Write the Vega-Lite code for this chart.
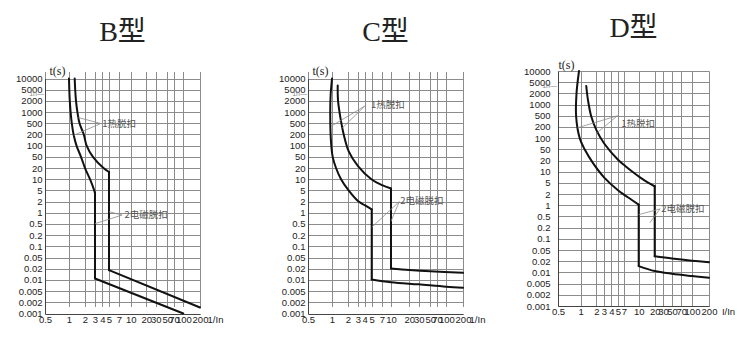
{
 "$schema": "https://vega.github.io/schema/vega-lite/v6.json",
 "padding": {"left": 15, "top": 15, "right": 0, "bottom": 0},
 "config": {
  "view": {"stroke": null},
  "axis": {"labelFont": "Liberation Sans", "labelFontSize": 9.5, "labelColor": "#222", "gridColor": "#8c8c8c", "gridWidth": 1, "gridOpacity": 1, "domainColor": "#444", "tickSize": 0, "labelOverlap": false, "labelFlush": false, "labelBound": false, "titleFontWeight": "normal", "titleColor": "#222"},
  "title": {"font": "Liberation Serif, Noto Sans CJK SC", "fontSize": 28, "fontWeight": "normal", "color": "#222", "anchor": "middle", "frame": "group"}
 },
 "spacing": 55,
 "hconcat": [
  {
   "width": 155, "height": 243,
   "title": {"text": "B型", "offset": 17},
   "layer": [
    {
     "data": {"values": [
      {"s":"La","i":0,"x":1.0,"y":10000},{"s":"La","i":1,"x":1.013,"y":5000},{"s":"La","i":2,"x":1.035,"y":2000},{"s":"La","i":3,"x":1.072,"y":1000},{"s":"La","i":4,"x":1.129,"y":500},{"s":"La","i":5,"x":1.22,"y":200},{"s":"La","i":6,"x":1.384,"y":100},{"s":"La","i":7,"x":1.681,"y":50},{"s":"La","i":8,"x":2.0,"y":20},{"s":"La","i":9,"x":2.449,"y":10},{"s":"La","i":10,"x":2.905,"y":5},{"s":"La","i":11,"x":3.0,"y":3.98},
      {"s":"Lb","i":0,"x":3.0,"y":3.98},{"s":"Lb","i":1,"x":3.0,"y":0.0109},
      {"s":"Lc","i":0,"x":3.0,"y":0.0109},{"s":"Lc","i":1,"x":100,"y":0.001},
      {"s":"Ua","i":0,"x":1.28,"y":10000},{"s":"Ua","i":1,"x":1.308,"y":5000},{"s":"Ua","i":2,"x":1.354,"y":2000},{"s":"Ua","i":3,"x":1.439,"y":1000},{"s":"Ua","i":4,"x":1.576,"y":500},{"s":"Ua","i":5,"x":1.897,"y":200},{"s":"Ua","i":6,"x":2.135,"y":100},{"s":"Ua","i":7,"x":2.76,"y":50},{"s":"Ua","i":8,"x":4.16,"y":20},{"s":"Ua","i":9,"x":5.0,"y":15.6},
      {"s":"Ub","i":0,"x":5.0,"y":15.6},{"s":"Ub","i":1,"x":5.0,"y":0.0183},
      {"s":"Uc","i":0,"x":5.0,"y":0.0183},{"s":"Uc","i":1,"x":200,"y":0.00145}
     ]},
     "mark": {"type": "line", "interpolate": "catmull-rom", "color": "#111", "strokeWidth": 2, "strokeCap": "round"},
     "encoding": {
      "x": {"field": "x", "type": "quantitative",
       "scale": {"type": "log", "nice": false, "domain": [0.5,1,2,3,4,5,7,10,20,30,50,70,100,200], "range": [0,24,40,50,57.3,64,74,85.7,101.3,110.7,122.3,129,138.3,155]},
       "axis": {"values": [0.5,1,2,3,4,5,7,10,20,30,50,70,100,200], "format": "~g", "labelPadding": 0, "title": "1/In", "titleFont": "Liberation Sans", "titleFontSize": 9.5, "titleX": 170, "titleY": 0, "titleAlign": "center", "titleBaseline": "top", "titleAngle": 0}},
      "y": {"field": "y", "type": "quantitative",
       "scale": {"type": "log", "nice": false, "domain": [0.001,0.002,0.005,0.01,0.02,0.05,0.1,0.2,0.5,1,2,5,10,20,50,100,200,500,1000,2000,5000,10000], "range": [242.5,231.31,220.12,208.93,197.74,186.55,175.36,164.17,152.98,141.79,130.6,119.4,108.21,97.02,85.83,74.64,63.45,52.26,41.07,29.88,18.69,7.5]},
       "axis": {"values": [0.001,0.002,0.005,0.01,0.02,0.05,0.1,0.2,0.5,1,2,5,10,20,50,100,200,500,1000,2000,5000,10000], "format": "~g", "labelPadding": 3, "title": "t(s)", "titleFont": "Liberation Serif", "titleFontSize": 12, "titleX": 12, "titleY": -1, "titleAlign": "center", "titleBaseline": "middle", "titleAngle": 0}},
      "detail": {"field": "s"},
      "order": {"field": "i", "type": "quantitative"}
     }
    },
    {
     "data": {"values": [
      {"x":3.76,"y":490,"x2":1.5,"y2":712},{"x":3.76,"y":490,"x2":1.23,"y2":190},
      {"x":7.7,"y":0.87,"x2":5,"y2":1.07},{"x":7.7,"y":0.87,"x2":3,"y2":0.51}
     ]},
     "mark": {"type": "rule", "color": "#8a8a8a", "strokeWidth": 0.8},
     "encoding": {"x": {"field": "x", "type": "quantitative"}, "y": {"field": "y", "type": "quantitative"}, "x2": {"field": "x2"}, "y2": {"field": "y2"}}
    },
    {
     "data": {"values": [{"x":4.0,"y":470,"t":"1热脱扣"},{"x":8.3,"y":0.85,"t":"2电磁脱扣"}]},
     "mark": {"type": "text", "align": "left", "baseline": "middle", "font": "Noto Sans CJK SC", "fontSize": 9.5, "color": "#555"},
     "encoding": {"x": {"field": "x", "type": "quantitative"}, "y": {"field": "y", "type": "quantitative"}, "text": {"field": "t"}}
    },
    {
     "data": {"values": [{"x":0.5,"y":3600,"t":"1h—"}]},
     "mark": {"type": "text", "align": "right", "baseline": "middle", "fontSize": 7, "color": "#888", "dx": -1},
     "encoding": {"x": {"field": "x", "type": "quantitative"}, "y": {"field": "y", "type": "quantitative"}, "text": {"field": "t"}}
    }
   ]
  },
  {
   "spacing": 38,
   "hconcat": [
    {
     "width": 155, "height": 243,
     "title": {"text": "C型", "offset": 17},
     "layer": [
      {
       "data": {"values": [
        {"s":"La","i":0,"x":1.0,"y":10000},{"s":"La","i":1,"x":0.96,"y":3000},{"s":"La","i":2,"x":0.95,"y":1000},{"s":"La","i":3,"x":0.96,"y":200},{"s":"La","i":4,"x":0.98,"y":100},{"s":"La","i":5,"x":1.03,"y":50},{"s":"La","i":6,"x":1.19,"y":20},{"s":"La","i":7,"x":1.48,"y":10},{"s":"La","i":8,"x":2.05,"y":5},{"s":"La","i":9,"x":3.08,"y":2},{"s":"La","i":10,"x":4.0,"y":1.6},{"s":"La","i":11,"x":5.0,"y":1.23},
        {"s":"Lb","i":0,"x":5.0,"y":1.23},{"s":"Lb","i":1,"x":5.0,"y":0.0103},
        {"s":"Lc","i":0,"x":5.0,"y":0.0103},{"s":"Lc","i":1,"x":10,"y":0.0087},{"s":"Lc","i":2,"x":30,"y":0.0076},{"s":"Lc","i":3,"x":100,"y":0.0066},{"s":"Lc","i":4,"x":200,"y":0.0062},
        {"s":"Ua","i":0,"x":1.28,"y":6460},{"s":"Ua","i":1,"x":1.3,"y":2000},{"s":"Ua","i":2,"x":1.48,"y":560},{"s":"Ua","i":3,"x":1.66,"y":200},{"s":"Ua","i":4,"x":2.05,"y":71},{"s":"Ua","i":5,"x":3.0,"y":23.4},{"s":"Ua","i":6,"x":5.0,"y":9.8},{"s":"Ua","i":7,"x":7.0,"y":6.9},{"s":"Ua","i":8,"x":10,"y":5.6},
        {"s":"Ub","i":0,"x":10,"y":5.6},{"s":"Ub","i":1,"x":10,"y":0.0204},
        {"s":"Uc","i":0,"x":10,"y":0.0204},{"s":"Uc","i":1,"x":20,"y":0.0185},{"s":"Uc","i":2,"x":50,"y":0.017},{"s":"Uc","i":3,"x":200,"y":0.0155}
       ]},
       "mark": {"type": "line", "interpolate": "catmull-rom", "color": "#111", "strokeWidth": 2, "strokeCap": "round"},
       "encoding": {
        "x": {"field": "x", "type": "quantitative",
         "scale": {"type": "log", "nice": false, "domain": [0.5,1,2,3,4,5,7,10,20,30,50,70,100,200], "range": [0,24,40,50,56.7,63.7,74,83,101.3,110.7,122.3,129,138.3,155]},
         "axis": {"values": [0.5,1,2,3,4,5,7,10,20,30,50,70,100,200], "format": "~g", "labelPadding": 0, "title": "1/In", "titleFont": "Liberation Sans", "titleFontSize": 9.5, "titleX": 169, "titleY": 0, "titleAlign": "center", "titleBaseline": "top", "titleAngle": 0}},
        "y": {"field": "y", "type": "quantitative",
         "scale": {"type": "log", "nice": false, "domain": [0.001,0.002,0.005,0.01,0.02,0.05,0.1,0.2,0.5,1,2,5,10,20,50,100,200,500,1000,2000,5000,10000], "range": [242.5,231.31,220.12,208.93,197.74,186.55,175.36,164.17,152.98,141.79,130.6,119.4,108.21,97.02,85.83,74.64,63.45,52.26,41.07,29.88,18.69,7.5]},
         "axis": {"values": [0.001,0.002,0.005,0.01,0.02,0.05,0.1,0.2,0.5,1,2,5,10,20,50,100,200,500,1000,2000,5000,10000], "format": "~g", "labelPadding": 3, "title": "t(s)", "titleFont": "Liberation Serif", "titleFontSize": 12, "titleX": 12, "titleY": -1, "titleAlign": "center", "titleBaseline": "middle", "titleAngle": 0}},
        "detail": {"field": "s"},
        "order": {"field": "i", "type": "quantitative"}
       }
      },
      {
       "data": {"values": [
        {"x":4.0,"y":1443,"x2":0.98,"y2":395},{"x":4.0,"y":1443,"x2":1.56,"y2":340},
        {"x":13.7,"y":2.0,"x2":5,"y2":0.38},{"x":13.7,"y":2.0,"x2":10,"y2":0.59}
       ]},
       "mark": {"type": "rule", "color": "#8a8a8a", "strokeWidth": 0.8},
       "encoding": {"x": {"field": "x", "type": "quantitative"}, "y": {"field": "y", "type": "quantitative"}, "x2": {"field": "x2"}, "y2": {"field": "y2"}}
      },
      {
       "data": {"values": [{"x":4.9,"y":1537,"t":"1热脱扣"},{"x":14.2,"y":2.07,"t":"2电磁脱扣"}]},
       "mark": {"type": "text", "align": "left", "baseline": "middle", "font": "Noto Sans CJK SC", "fontSize": 9.5, "color": "#555"},
       "encoding": {"x": {"field": "x", "type": "quantitative"}, "y": {"field": "y", "type": "quantitative"}, "text": {"field": "t"}}
      },
      {
       "data": {"values": [{"x":0.5,"y":3600,"t":"1h—"}]},
       "mark": {"type": "text", "align": "right", "baseline": "middle", "fontSize": 7, "color": "#888", "dx": -1},
       "encoding": {"x": {"field": "x", "type": "quantitative"}, "y": {"field": "y", "type": "quantitative"}, "text": {"field": "t"}}
      }
     ]
    },
    {
     "width": 151, "height": 235,
     "title": {"text": "D型", "offset": 15},
     "layer": [
      {
       "data": {"values": [
        {"s":"La","i":0,"x":0.95,"y":10000},{"s":"La","i":1,"x":0.88,"y":2000},{"s":"La","i":2,"x":0.87,"y":468},{"s":"La","i":3,"x":0.97,"y":100},{"s":"La","i":4,"x":1.19,"y":50},{"s":"La","i":5,"x":1.73,"y":17},{"s":"La","i":6,"x":3.0,"y":7.07},{"s":"La","i":7,"x":5.0,"y":2.76},{"s":"La","i":8,"x":8.4,"y":1.41},{"s":"La","i":9,"x":10,"y":1.04},
        {"s":"Lb","i":0,"x":10,"y":1.04},{"s":"Lb","i":1,"x":10,"y":0.0148},
        {"s":"Lc","i":0,"x":10,"y":0.0148},{"s":"Lc","i":1,"x":20,"y":0.0109},{"s":"Lc","i":2,"x":50,"y":0.0092},{"s":"Lc","i":3,"x":100,"y":0.008},{"s":"Lc","i":4,"x":200,"y":0.0072},
        {"s":"Ua","i":0,"x":1.28,"y":3665},{"s":"Ua","i":1,"x":1.38,"y":1339},{"s":"Ua","i":2,"x":1.6,"y":468},{"s":"Ua","i":3,"x":2.0,"y":167},{"s":"Ua","i":4,"x":3.0,"y":73},{"s":"Ua","i":5,"x":5.0,"y":21.4},{"s":"Ua","i":6,"x":7.26,"y":14.1},{"s":"Ua","i":7,"x":8.6,"y":10},{"s":"Ua","i":8,"x":10.58,"y":7.07},{"s":"Ua","i":9,"x":15.3,"y":5},{"s":"Ua","i":10,"x":20,"y":3.8},
        {"s":"Ub","i":0,"x":20,"y":3.8},{"s":"Ub","i":1,"x":20,"y":0.03},
        {"s":"Uc","i":0,"x":20,"y":0.03},{"s":"Uc","i":1,"x":50,"y":0.025},{"s":"Uc","i":2,"x":100,"y":0.021},{"s":"Uc","i":3,"x":200,"y":0.0189}
       ]},
       "mark": {"type": "line", "interpolate": "catmull-rom", "color": "#111", "strokeWidth": 2, "strokeCap": "round"},
       "encoding": {
        "x": {"field": "x", "type": "quantitative",
         "scale": {"type": "log", "nice": false, "domain": [0.5,1,2,3,4,5,7,10,20,30,50,70,100,200], "range": [0,22.7,38.3,46,53.3,60,66,80.7,96.7,105,114,123.3,134,151]},
         "axis": {"values": [0.5,1,2,3,4,5,7,10,20,30,50,70,100,200], "format": "~g", "labelPadding": 0, "title": "I/In", "titleFont": "Liberation Sans", "titleFontSize": 9.5, "titleX": 170, "titleY": 0, "titleAlign": "center", "titleBaseline": "top", "titleAngle": 0}},
        "y": {"field": "y", "type": "quantitative",
         "scale": {"type": "log", "nice": false, "domain": [0.001,0.002,0.005,0.01,0.02,0.05,0.1,0.2,0.5,1,2,5,10,20,50,100,200,500,1000,2000,5000,10000], "range": [235,223.81,212.62,201.43,190.24,179.05,167.86,156.67,145.48,134.29,123.1,111.9,100.71,89.52,78.33,67.14,55.95,44.76,33.57,22.38,11.19,0]},
         "axis": {"values": [0.001,0.002,0.005,0.01,0.02,0.05,0.1,0.2,0.5,1,2,5,10,20,50,100,200,500,1000,2000,5000,10000], "format": "~g", "labelPadding": 8, "title": "t(s)", "titleFont": "Liberation Serif", "titleFontSize": 12, "titleX": 8, "titleY": -7, "titleAlign": "center", "titleBaseline": "middle", "titleAngle": 0}},
        "detail": {"field": "s"},
        "order": {"field": "i", "type": "quantitative"}
       }
      },
      {
       "data": {"values": [
        {"x":4.9,"y":500,"x2":0.91,"y2":190},{"x":4.9,"y":500,"x2":2.1,"y2":140},
        {"x":26,"y":0.8,"x2":10,"y2":0.56},{"x":26,"y":0.8,"x2":16.2,"y2":0.3}
       ]},
       "mark": {"type": "rule", "color": "#8a8a8a", "strokeWidth": 0.8},
       "encoding": {"x": {"field": "x", "type": "quantitative"}, "y": {"field": "y", "type": "quantitative"}, "x2": {"field": "x2"}, "y2": {"field": "y2"}}
      },
      {
       "data": {"values": [{"x":6.0,"y":259,"t":"1热脱扣"},{"x":27.6,"y":0.8,"t":"2电磁脱扣"}]},
       "mark": {"type": "text", "align": "left", "baseline": "middle", "font": "Noto Sans CJK SC", "fontSize": 9.5, "color": "#555"},
       "encoding": {"x": {"field": "x", "type": "quantitative"}, "y": {"field": "y", "type": "quantitative"}, "text": {"field": "t"}}
      },
      {
       "data": {"values": [{"x":0.5,"y":3600,"t":"1h—"}]},
       "mark": {"type": "text", "align": "right", "baseline": "middle", "fontSize": 7, "color": "#888", "dx": -1},
       "encoding": {"x": {"field": "x", "type": "quantitative"}, "y": {"field": "y", "type": "quantitative"}, "text": {"field": "t"}}
      }
     ]
    }
   ]
  }
 ]
}
